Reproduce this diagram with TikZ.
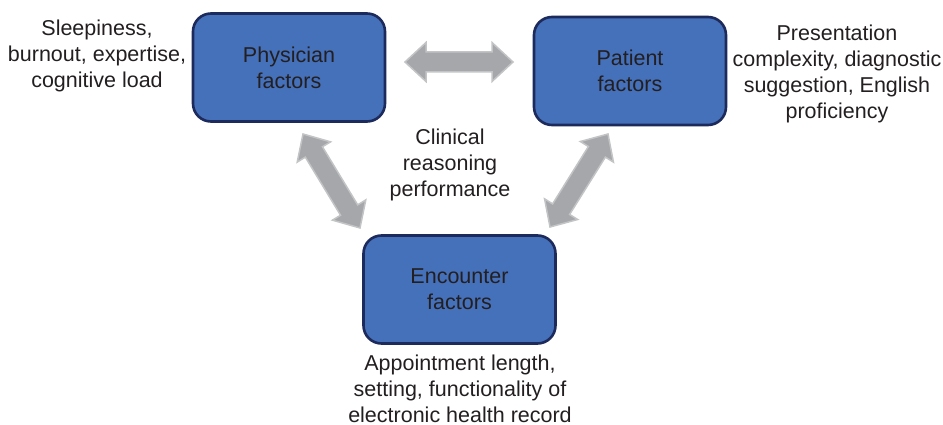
\documentclass[tikz,border=0pt]{standalone}
\usepackage{fontspec}
\setmainfont{Liberation Sans}
\usetikzlibrary{calc}
\definecolor{boxblue}{HTML}{4570BA}
\definecolor{boxedge}{HTML}{1D2A5C}
\definecolor{txt}{HTML}{231F20}
\definecolor{arrfill}{HTML}{A5A7AA}
\definecolor{arredge}{HTML}{C3C4C6}
\newcommand\bigdbl[2]{%
\draw[bigarrow] (#1)
 -- ($(#1)!21pt!(#2)!19.5pt!90:(#2)$)
 -- ($(#1)!21pt!(#2)!10pt!90:(#2)$)
 -- ($(#2)!21pt!(#1)!10pt!-90:(#1)$)
 -- ($(#2)!21pt!(#1)!19.5pt!-90:(#1)$)
 -- (#2)
 -- ($(#2)!21pt!(#1)!19.5pt!90:(#1)$)
 -- ($(#2)!21pt!(#1)!10pt!90:(#1)$)
 -- ($(#1)!21pt!(#2)!10pt!-90:(#2)$)
 -- ($(#1)!21pt!(#2)!19.5pt!-90:(#2)$)
 -- cycle;}
\begin{document}
\begin{tikzpicture}[x=1pt,y=-1pt,
  every node/.style={text=txt,font=\fontsize{21.5}{26}\selectfont,align=center,inner sep=0pt},
  factorbox/.style={draw=boxedge,fill=boxblue,line width=2.6pt,rounded corners=18pt,
    minimum width=192pt,minimum height=108pt},
  bigarrow/.style={fill=arrfill,draw=arredge,line width=1.5pt,line join=miter}]
\useasboundingbox (0,0) rectangle (943,425);
\node[factorbox] (phys) at (289,67.5) {Physician\\factors};
\node[factorbox] (pat) at (630,71) {Patient\\factors};
\node[factorbox] (enc) at (459.5,289.5) {Encounter\\factors};
\node (physnote) at (97,55.5) {Sleepiness,\\burnout, expertise,\\cognitive load};
\node (patnote) at (837,73.5) {Presentation\\complexity, diagnostic\\suggestion, English\\proficiency};
\node (encnote) at (460,389) {Appointment length,\\setting, functionality of\\electronic health record};
\node (perf) at (450,165) {Clinical\\reasoning\\performance};
\coordinate (h1) at (405,62);
\coordinate (h2) at (513,62);
\coordinate (l1) at (303,134);
\coordinate (l2) at (360,228);
\coordinate (r1) at (608,134);
\coordinate (r2) at (550,227);
\bigdbl{h1}{h2}
\bigdbl{l1}{l2}
\bigdbl{r1}{r2}
\end{tikzpicture}
\end{document}
